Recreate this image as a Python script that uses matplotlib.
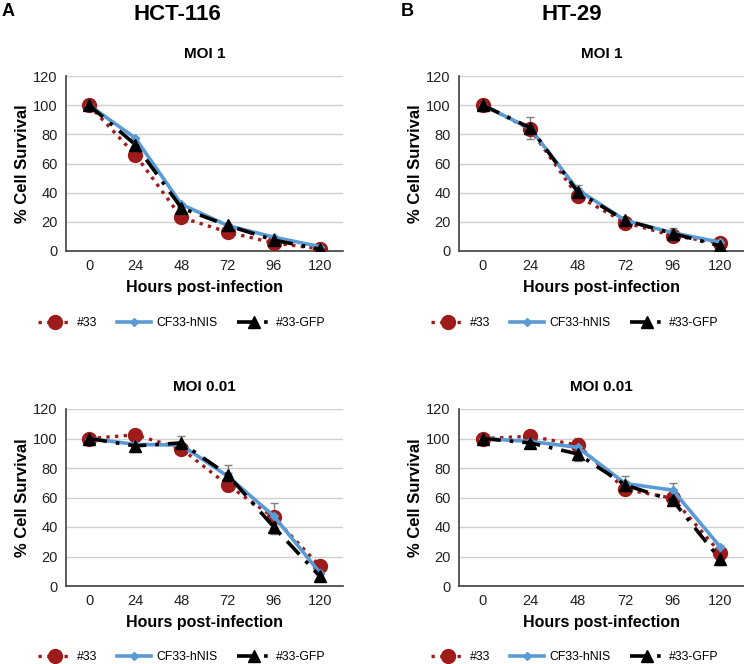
import matplotlib
matplotlib.use("Agg")
import matplotlib.pyplot as plt
import numpy as np

plt.rcParams['font.family'] = ['Liberation Sans', 'DejaVu Sans']

hours = ["0", "24", "48", "72", "96", "120"]
series_names = ["#33", "CF33-hNIS", "#33-GFP"]

# HCT-116
hct_moi1_33 = [100, 66, 23, 13, 5.5, 1.5]
hct_moi1_hnis = [100, 77.5, 32, 17.5, 9.5, 3]
hct_moi1_gfp = [100, 73, 29.5, 17.5, 7.5, 1.2]
hct_moi1_33_err = [0, 1, 1, 1, 0.5, 0.5]
hct_moi1_hnis_err = [0, 1, 1, 1, 0.5, 0.5]
hct_moi1_gfp_err = [0, 1, 1, 1, 0.5, 0.5]

hct_moi001_33 = [100, 102.5, 93, 68.5, 46.5, 13.5]
hct_moi001_hnis = [100, 96, 95.5, 74.5, 47.5, 9]
hct_moi001_gfp = [100, 95, 97, 75.5, 40, 6.5]
hct_moi001_33_err = [0, 1, 1.5, 4, 2, 1]
hct_moi001_hnis_err = [0, 1, 1, 2, 8.5, 1]
hct_moi001_gfp_err = [0, 4, 5, 6.5, 4.5, 1.5]

# HT-29
ht_moi1_33 = [100, 83.5, 37.5, 19.5, 10.5, 5.5]
ht_moi1_hnis = [100, 84, 42, 21, 12.5, 6]
ht_moi1_gfp = [100, 84.5, 40.5, 21, 12, 3.5]
ht_moi1_33_err = [0, 1, 1, 1, 1, 0.5]
ht_moi1_hnis_err = [0, 1, 3, 1, 1, 0.5]
ht_moi1_gfp_err = [0, 7.5, 3, 1, 4, 1]

ht_moi001_33 = [100, 101.5, 95.5, 65.5, 59.5, 22.5]
ht_moi001_hnis = [100, 98, 94, 69.5, 65, 26.5]
ht_moi001_gfp = [100, 97, 89.5, 68.5, 58, 18]
ht_moi001_33_err = [0, 1, 5, 2, 2, 2]
ht_moi001_hnis_err = [0, 1, 1.5, 5, 4.5, 1]
ht_moi001_gfp_err = [0, 3, 5, 3, 3, 4]

panels = [
    ("MOI 1", [hct_moi1_33, hct_moi1_hnis, hct_moi1_gfp], [hct_moi1_33_err, hct_moi1_hnis_err, hct_moi1_gfp_err]),
    ("MOI 0.01", [hct_moi001_33, hct_moi001_hnis, hct_moi001_gfp], [hct_moi001_33_err, hct_moi001_hnis_err, hct_moi001_gfp_err]),
    ("MOI 1", [ht_moi1_33, ht_moi1_hnis, ht_moi1_gfp], [ht_moi1_33_err, ht_moi1_hnis_err, ht_moi1_gfp_err]),
    ("MOI 0.01", [ht_moi001_33, ht_moi001_hnis, ht_moi001_gfp], [ht_moi001_33_err, ht_moi001_hnis_err, ht_moi001_gfp_err]),
]

W, H = 744, 664
fig = plt.figure(figsize=(W / 100, H / 100), dpi=100)

def rect(x0, x1, ytop, ybot):
    return [x0 / W, 1 - ybot / H, (x1 - x0) / W, (ybot - ytop) / H]

rects = [
    rect(66, 343, 76, 251),
    rect(66, 343, 409, 586),
    rect(459, 744, 76, 251),
    rect(459, 744, 409, 586),
]
legend_centers = [(182, 323), (182, 657), (575, 323), (575, 657)]

styles = [
    dict(color="#9E1B1B", linestyle=(0, (1, 1.6)), linewidth=2.4, marker="o", markersize=10, zorder=3),
    dict(color="#5B9BD5", linestyle="-", linewidth=2.6, marker="D", markersize=4.5, zorder=4),
    dict(color="black", linestyle=(0, (5, 2.5, 1, 2.5)), linewidth=2.6, marker="^", markersize=8, zorder=5),
]

x = np.arange(len(hours))
for (title, vals, errs), r, (lx, ly) in zip(panels, rects, legend_centers):
    ax = fig.add_axes(r)
    for name, v, e, st in zip(series_names, vals, errs, styles):
        ax.errorbar(x, v, yerr=e, fmt="none", ecolor="#7F7F7F", elinewidth=1, capsize=3, capthick=1, zorder=2)
        ax.plot(x, v, label=name, **st)
    ax.set_xlim(-0.5, 5.5)
    ax.set_ylim(0, 120)
    ax.set_yticks(range(0, 121, 20))
    ax.set_xticks(x)
    ax.set_xticklabels(hours)
    ax.tick_params(axis="both", length=0, labelsize=10.5, colors="#222222", pad=6)
    ax.yaxis.grid(True, color="#D0D0D0", linewidth=1)
    ax.set_axisbelow(True)
    for s in ["top", "right"]:
        ax.spines[s].set_visible(False)
    for s in ["left", "bottom"]:
        ax.spines[s].set_color("#404040")
        ax.spines[s].set_linewidth(1.2)
    ax.set_title(title, fontsize=11, fontweight="bold", pad=13)
    ax.set_xlabel("Hours post-infection", fontsize=11.5, fontweight="bold", labelpad=5)
    ax.set_ylabel("% Cell Survival", fontsize=12, fontweight="bold", labelpad=2)
    handles, labels = ax.get_legend_handles_labels()
    fig.legend(handles, labels, loc="center", bbox_to_anchor=(lx / W, 1 - ly / H), ncol=3,
               frameon=False, fontsize=8.8, handlelength=2.8, columnspacing=1.6, handletextpad=0.4,
               numpoints=1)

fig.text(177 / W, 1 - 15 / H, "HCT-116", ha="center", va="center", fontsize=16, fontweight="bold")
fig.text(572 / W, 1 - 15 / H, "HT-29", ha="center", va="center", fontsize=16, fontweight="bold")
fig.text(8 / W, 1 - 12 / H, "A", ha="center", va="center", fontsize=13, fontweight="bold")
fig.text(407 / W, 1 - 12 / H, "B", ha="center", va="center", fontsize=13, fontweight="bold")

fig.savefig("out.png", dpi=100)
